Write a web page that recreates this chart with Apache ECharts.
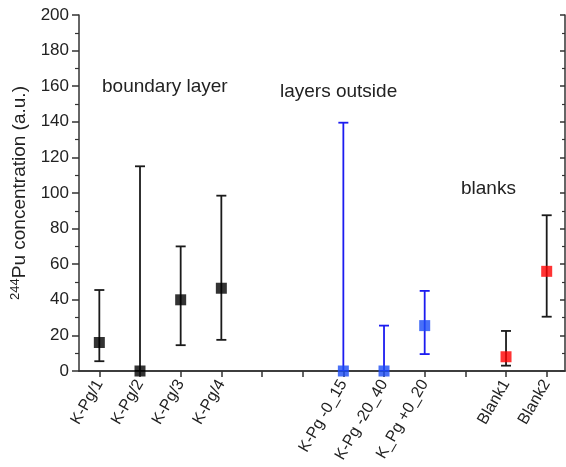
<!DOCTYPE html>
<html>
<head>
<meta charset="utf-8">
<script src="https://cdn.jsdelivr.net/npm/echarts@6/dist/echarts.min.js"></script>
<style>
  html, body { margin: 0; padding: 0; background: #fff; }
  #chart { width: 566px; height: 467px; }
</style>
</head>
<body>
<div id="chart"></div>
<script>
// sample positions on the x axis (gaps at 5, 6 and 10)
const positions = [1, 2, 3, 4, 7, 8, 9, 11, 12];
const tickPositions = [1, 2, 3, 4, 5, 6, 7, 8, 9, 10, 11, 12];
const categories = ['K-Pg/1', 'K-Pg/2', 'K-Pg/3', 'K-Pg/4', 'K-Pg -0_15', 'K-Pg -20_40', 'K_Pg +0_20', 'Blank1', 'Blank2'];
const values = [16, 0, 40, 46.5, 0, 0, 25.5, 8, 56];
const lower = [5.5, 0, 14.5, 17.5, 0, 0, 9.5, 3, 30.5];
const upper = [45.5, 115, 70, 98.5, 139.5, 25.5, 45, 22.5, 87.5];

const groups = [
  { idx: [0, 1, 2, 3], bar: '#1a1a1a', mark: '#000000' },   // boundary layer
  { idx: [4, 5, 6], bar: '#1c1cf0', mark: '#1c4cf5' },      // layers outside
  { idx: [7, 8], bar: '#1a1a1a', mark: '#ff0000' }          // blanks
];

const chart = echarts.init(document.getElementById('chart'));

function errorSeries(g) {
  return {
    type: 'custom',
    clip: true,
    data: g.idx.map(i => [positions[i], lower[i], upper[i]]),
    renderItem: (params, api) => {
      const lo = api.coord([api.value(0), api.value(1)]);
      const hi = api.coord([api.value(0), api.value(2)]);
      const hw = 5;
      const style = { stroke: g.bar, lineWidth: 1.8, fill: null };
      return {
        type: 'group',
        children: [
          { type: 'line', shape: { x1: lo[0], y1: lo[1], x2: hi[0], y2: hi[1] }, style },
          { type: 'line', shape: { x1: hi[0] - hw, y1: hi[1], x2: hi[0] + hw, y2: hi[1] }, style },
          { type: 'line', shape: { x1: lo[0] - hw, y1: lo[1], x2: lo[0] + hw, y2: lo[1] }, style }
        ]
      };
    },
    z: 2
  };
}

function markSeries(g) {
  return {
    type: 'scatter',
    symbol: 'rect',
    symbolSize: 11,
    clip: true,
    itemStyle: { color: g.mark },
    data: g.idx.map(i => [positions[i], values[i]]),
    z: 3
  };
}

const axisLine = { show: true, lineStyle: { color: '#333', width: 1.5 } };
const textFont = { fontFamily: 'Liberation Sans, Arial', color: '#222' };

chart.setOption({
  animation: false,
  grid: { left: 79, right: 1, top: 15, bottom: 96 },
  xAxis: [
    {
      type: 'value',
      min: 0.5,
      max: 12.45,
      position: 'bottom',
      axisLine,
      splitLine: { show: false },
      axisTick: { show: true, length: 6, inside: false, customValues: tickPositions, lineStyle: { color: '#333', width: 1.5 } },
      axisLabel: {
        customValues: positions,
        rotate: 60,
        fontSize: 16,
        margin: 10,
        ...textFont,
        formatter: v => categories[positions.indexOf(v)] || ''
      }
    },
    {
      type: 'value',
      min: 0.5,
      max: 12.45,
      position: 'top',
      axisLine,
      splitLine: { show: false },
      axisTick: { show: true, length: 5, inside: true, customValues: tickPositions, lineStyle: { color: '#333', width: 1.5 } },
      axisLabel: { show: false }
    }
  ],
  yAxis: [
    {
      type: 'value',
      min: 0,
      max: 200,
      interval: 20,
      position: 'left',
      axisLine,
      splitLine: { show: false },
      axisTick: { show: true, length: 7, lineStyle: { color: '#333', width: 1.5 } },
      minorTick: { show: true, splitNumber: 2, length: 4, lineStyle: { color: '#333', width: 1.2 } },
      axisLabel: { fontSize: 17, margin: 10, ...textFont },
      name: '{sup|244}Pu concentration (a.u.)',
      nameLocation: 'middle',
      nameGap: 43,
      nameRotate: 90,
      nameTextStyle: {
        fontSize: 19,
        ...textFont,
        rich: {
          sup: { fontSize: 13, padding: [0, 0, 9, 0], ...textFont }
        }
      }
    },
    {
      type: 'value',
      min: 0,
      max: 200,
      interval: 20,
      position: 'right',
      axisLine,
      splitLine: { show: false },
      axisTick: { show: true, length: 5, inside: true, lineStyle: { color: '#333', width: 1.5 } },
      minorTick: { show: true, splitNumber: 2, length: 3, lineStyle: { color: '#333', width: 1.2 } },
      axisLabel: { show: false }
    }
  ],
  graphic: [
    { type: 'text', left: 102, top: 77, style: { text: 'boundary layer', fontSize: 19, fontFamily: 'Liberation Sans, Arial', fill: '#222' } },
    { type: 'text', left: 280, top: 82, style: { text: 'layers outside', fontSize: 19, fontFamily: 'Liberation Sans, Arial', fill: '#222' } },
    { type: 'text', left: 461, top: 179, style: { text: 'blanks', fontSize: 19, fontFamily: 'Liberation Sans, Arial', fill: '#222' } }
  ],
  series: [
    ...groups.map(errorSeries),
    ...groups.map(markSeries)
  ]
});
</script>
</body>
</html>
